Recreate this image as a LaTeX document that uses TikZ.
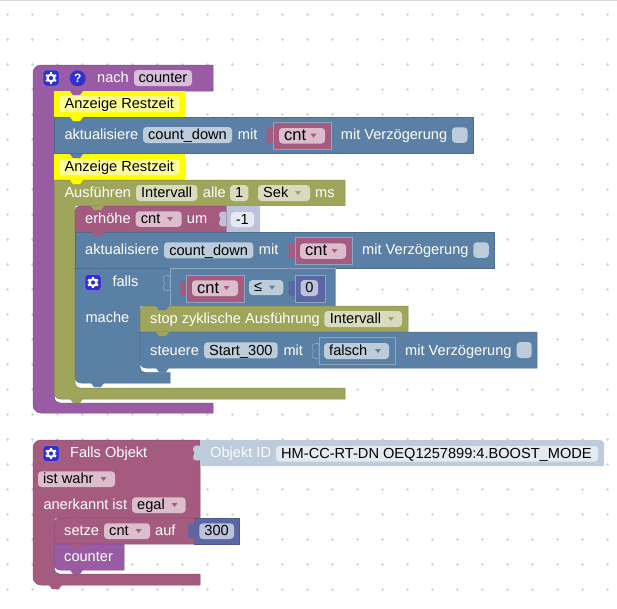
\documentclass[tikz,border=0pt]{standalone}
\usepackage{fontspec}
\setmainfont{Liberation Sans}
\definecolor{blockpurple}{HTML}{9A5BA5}
\definecolor{blockblue}{HTML}{5B80A5}
\definecolor{blockolive}{HTML}{9FA55B}
\definecolor{blockmaroon}{HTML}{A55B80}
\definecolor{blockindigo}{HTML}{5B67A5}
\definecolor{blockyellow}{HTML}{FFFF00}
\definecolor{iconblue}{HTML}{3030CC}
\definecolor{fieldpurple}{HTML}{D7BEDB}
\definecolor{fieldblue}{HTML}{BDCCDB}
\definecolor{fieldolive}{HTML}{D8DBBD}
\definecolor{fieldmaroon}{HTML}{DBBDCC}
\definecolor{fieldindigo}{HTML}{BDC2DB}
\definecolor{fieldyellow}{HTML}{FFFF99}
\definecolor{fieldpale}{HTML}{E4EAF1}
\definecolor{socketline}{HTML}{8FA6BF}
\tikzset{
    block/.style={fill=#1,draw=#1!85!black,line width=.5pt},
    socket/.style={fill=#1,draw=socketline,line width=.6pt},
    field/.style={fill=#1,rounded corners=3.5pt},
    lbl/.style={anchor=west,inner sep=0pt,text=white,font=\fontsize{14.6}{16}\selectfont,text height=12pt,text depth=2.6pt},
    val/.style={lbl,text=black},
    bigval/.style={val,font=\fontsize{16.5}{18}\selectfont},
    griddot/.style={draw=black!16,line width=.5pt},
    pics/tab/.style={code={\fill[#1] (0,0) -- (3,4) -- (10,4) -- (13,0) -- cycle;}},
    pics/puzzle/.style={code={\path[#1] (0,-7) .. controls (-2,-8) and (-7,-8) .. (-7,-4) -- (-5.5,0) -- (-7,4) .. controls (-7,8) and (-2,8) .. (0,7) -- cycle;}},
    pics/dropmark/.style={code={\fill[#1] (-3,-2) -- (3,-2) -- (0,2) -- cycle;}},
    pics/gearicon/.style={code={
        \fill[iconblue,draw=white!40!iconblue,line width=.5pt,rounded corners=3pt] (-8,-8) rectangle (8,8);
        \foreach \a in {0,60,...,300} {\draw[white,line width=2pt,rotate=\a] (0,0) -- (0,5.8);}
        \fill[white] (0,0) circle (4.6pt);
        \fill[iconblue] (0,0) circle (2.1pt);
    }},
}

\begin{document}
\begin{tikzpicture}[x=1pt,y=-1pt]
    \useasboundingbox (0,0) rectangle (617,608);
    \draw[black!15] (0,.5) -- (617,.5);
    \foreach \i in {0,...,24} {
        \foreach \j in {0,...,23} {
            \draw[griddot] (5.8+25*\i,14.3+25*\j) -- +(3,0);
            \draw[griddot] (7.3+25*\i,12.8+25*\j) -- +(0,3);
        }
    }

    % first script
    \draw[block=blockpurple] (33,100) [rounded corners=8pt] -- (33,65) -- (100,65) [sharp corners] -- (213,65) -- (213,91) -- (54.3,91) -- (54.3,300) [rounded corners=6pt] -- (54.3,403) -- (100,403) [sharp corners] -- (213,403) -- (213,413) -- (100,413) [rounded corners=8pt] -- (33,413) -- (33,300) [sharp corners] -- cycle;
    \pic at (51,78) {gearicon};
    \fill[iconblue] (77.7,78.3) circle (8pt);
    \node[lbl,anchor=center,font=\bfseries\fontsize{12}{13}\selectfont,text height=8.6pt,text depth=0pt] (help) at (77.7,78.3) {?};
    \node[lbl] (nach) at (97,78) {nach};
    \fill[field=fieldpurple] (134,70) rectangle +(58,16) node[midway,val,anchor=center] (counterA) {counter};

    \fill[blockyellow] (54.3,91) rectangle (185,117);
    \pic at (70,91) {tab=blockpurple};
    \fill[field=fieldyellow] (59.3,96) rectangle +(120,16) node[midway,val,anchor=center] (restA) {Anzeige Restzeit};

    \draw[block=blockblue] (54.3,117) rectangle (473,153.5);
    \pic at (70,117) {tab=blockyellow};
    \node[lbl] (aktA) at (64.3,135) {aktualisiere};
    \fill[field=fieldblue] (143,127) rectangle +(89,16) node[midway,val,anchor=center] (downA) {count\_down};
    \node[lbl] (mitA) at (237.7,135) {mit};
    \pic at (273,135.5) {puzzle={fill=blockmaroon}};
    \draw[socket=blockmaroon] (273,122.7) rectangle (331,149);
    \fill[field=fieldmaroon] (279,128) rectangle +(46,15.5);
    \node[bigval] (cntA) at (284,136) {cnt};
    \pic at (313.5,135.7) {dropmark=blockmaroon};
    \node[lbl] (delayA) at (340.7,135) {mit Verzögerung};
    \fill[field=fieldblue] (452,127.3) rectangle +(15.5,15.5);

    \fill[blockyellow] (54.3,154) rectangle (185,180);
    \pic at (70,154) {tab=blockblue};
    \fill[field=fieldyellow] (59.3,159) rectangle +(120,16) node[midway,val,anchor=center] (restB) {Anzeige Restzeit};

    \draw[block=blockolive] (54.3,180) -- (345,180) -- (345,205.7) -- (75,205.7) -- (75,300) [rounded corners=5pt] -- (75,388) -- (120,388) [sharp corners] -- (345,388) -- (345,399) -- (120,399) [rounded corners=6pt] -- (54.3,399) -- (54.3,300) [sharp corners] -- cycle;
    \pic at (70,180) {tab=blockyellow};
    \pic at (70,399) {tab=blockolive};
    \node[lbl] (run) at (64.3,193) {Ausführen};
    \fill[field=fieldolive] (136,185) rectangle +(61.3,16) node[midway,val,anchor=center] (intervalA) {Intervall};
    \node[lbl] (every) at (202.7,193) {alle};
    \fill[field=fieldolive] (230,185) rectangle +(18.3,16) node[midway,val,anchor=center] (one) {1};
    \fill[field=fieldolive] (258,185) rectangle +(52,16);
    \node[val] (sek) at (263,193) {Sek};
    \pic at (298,193) {dropmark=blockolive};
    \node[lbl] (ms) at (315,193) {ms};

    % counter step and second update
    \fill[fieldindigo] (226,206) rectangle (260,232);
    \draw[block=blockmaroon] (226,206) -- (226,232) -- (75,232) -- (75,220) [rounded corners=5pt] -- (75,206) -- (120,206) [sharp corners] -- cycle;
    \pic at (226,219) {puzzle={fill=fieldindigo}};
    \pic at (91,206) {tab=blockolive};
    \node[lbl] (inc) at (85,219) {erhöhe};
    \fill[field=fieldmaroon] (135.7,211.3) rectangle +(46,15.5);
    \node[val] (cntB) at (140.7,219) {cnt};
    \pic at (170,219) {dropmark=blockmaroon};
    \node[lbl] (by) at (186.7,219) {um};
    \fill[field=fieldpale] (230.7,212) rectangle +(23.3,15) node[midway,val,anchor=center] (minus) {-1};

    \draw[block=blockblue] (75,232) rectangle (494,268);
    \pic at (91,232) {tab=blockmaroon};
    \node[lbl] (aktB) at (85,250) {aktualisiere};
    \fill[field=fieldblue] (164,242.3) rectangle +(89.3,16) node[midway,val,anchor=center] (downB) {count\_down};
    \node[lbl] (mitB) at (258.7,250) {mit};
    \pic at (295,251) {puzzle={fill=blockmaroon}};
    \draw[socket=blockmaroon] (295,237.5) rectangle (352,264.3);
    \fill[field=fieldmaroon] (300,243.3) rectangle +(46,15.5);
    \node[bigval] (cntC) at (305,251) {cnt};
    \pic at (334.5,251) {dropmark=blockmaroon};
    \node[lbl] (delayB) at (362,250) {mit Verzögerung};
    \fill[field=fieldblue] (473.3,242.3) rectangle +(15.5,15.5);

    % if branch
    \draw[block=blockblue] (170,268.5) -- (170,306) -- (140,306) -- (140,340) [rounded corners=5pt] -- (140,372.5) -- (155,372.5) [sharp corners] -- (170,372.5) -- (170,383) -- (120,383) [rounded corners=6pt] -- (75,383) -- (75,330) [sharp corners] -- (75,268.5) -- cycle;
    \pic at (91,268.5) {tab=blockblue};
    \pic at (91,383) {tab=blockblue};
    \draw[socket=blockblue] (170,268.5) rectangle (335,306);
    \pic at (170,283) {puzzle={socket=blockblue}};
    \pic at (93,282.5) {gearicon};
    \node[lbl] (cond) at (112.3,282) {falls};
    \node[lbl] (then) at (85.3,318) {mache};
    \pic at (186.7,288.5) {puzzle={fill=blockmaroon}};
    \draw[socket=blockmaroon] (186.7,275) rectangle (244.3,302);
    \fill[field=fieldmaroon] (192,280.3) rectangle +(46,15.7);
    \node[bigval] (cntD) at (197,288.5) {cnt};
    \pic at (226.5,288) {dropmark=blockmaroon};
    \fill[field=fieldblue] (249,280) rectangle +(34.3,15);
    \node[val] (leq) at (254,287) {≤};
    \pic at (272,287.5) {dropmark=blockblue};
    \pic at (295,288.5) {puzzle={fill=blockindigo}};
    \draw[socket=blockindigo] (295,275) rectangle (325,302);
    \fill[field=fieldindigo] (300.7,280) rectangle +(17.3,16) node[midway,val,anchor=center] (zero) {0};

    \draw[block=blockolive] (408,306) -- (408,332) -- (140,332) -- (140,320) [rounded corners=5pt] -- (140,306) -- (200,306) [sharp corners] -- cycle;
    \pic at (156,306) {tab=blockblue};
    \node[lbl] (halt) at (150,319) {stop zyklische Ausführung};
    \fill[field=fieldolive] (324.3,311) rectangle +(77.7,16);
    \node[val] (intervalB) at (329.7,319) {Intervall};
    \pic at (391,319) {dropmark=blockolive};

    \draw[block=blockblue] (537,332) -- (537,368) -- (200,368) [rounded corners=6pt] -- (140,368) -- (140,350) [sharp corners] -- (140,332) -- cycle;
    \pic at (156,332) {tab=blockolive};
    \pic at (156,368) {tab=blockblue};
    \node[lbl] (ctrl) at (150,350.5) {steuere};
    \fill[field=fieldblue] (204,342.3) rectangle +(73.7,16) node[midway,val,anchor=center] (start) {Start\_300};
    \node[lbl] (mitC) at (283.3,350.5) {mit};
    \pic at (319,351) {puzzle={socket=blockblue}};
    \draw[socket=blockblue] (319,337) rectangle (395,364);
    \fill[field=fieldblue] (324,343) rectangle +(65,16);
    \node[val] (false) at (329,351) {falsch};
    \pic at (378,351) {dropmark=blockblue};
    \node[lbl] (delayC) at (405,350.5) {mit Verzögerung};
    \fill[field=fieldblue] (516.7,342) rectangle +(15,16);

    % second script
    \draw[block=blockmaroon] (33,480) [rounded corners=8pt] -- (33,440) -- (100,440) [sharp corners] -- (200,440) -- (200,518) -- (54.3,518) -- (54.3,540) [rounded corners=5pt] -- (54.3,574) -- (100,574) [sharp corners] -- (200,574) -- (200,585) -- (100,585) [rounded corners=8pt] -- (33,585) -- (33,540) [sharp corners] -- cycle;
    \pic at (49,585) {tab=blockmaroon};
    \pic at (51,453.5) {gearicon};
    \node[lbl] (trigger) at (70,453) {Falls Objekt};
    \fill[field=fieldmaroon] (38,471.3) rectangle +(77,15.7);
    \node[val] (istrue) at (43,479) {ist wahr};
    \pic at (103.5,479) {dropmark=blockmaroon};
    \node[lbl] (ack) at (43.3,505) {anerkannt ist};
    \fill[field=fieldmaroon] (132,497.3) rectangle +(53.7,15.7);
    \node[val] (any) at (137,505) {egal};
    \pic at (174.5,505) {dropmark=blockmaroon};

    \fill[fieldblue] (200,466) -- (200,440) -- (500,440) [rounded corners=4pt] -- (604,440) -- (604,460) [sharp corners] -- (604,466) -- cycle;
    \pic at (200,453) {puzzle={fill=fieldblue}};
    \node[lbl,text=white!90!fieldblue] (objid) at (210,453) {Objekt ID};
    \fill[field=fieldpale] (276,446) rectangle +(322,15.5);
    \node[val] (objname) at (281,453.5) {HM-CC-RT-DN OEQ1257899:4.BOOST\_MODE};

    \draw[block=blockindigo] (194,518) rectangle (239.5,544);
    \draw[block=blockmaroon] (194.5,518) -- (194.5,544) -- (54.3,544) -- (54.3,530) [rounded corners=5pt] -- (54.3,518) -- (120,518) [sharp corners] -- cycle;
    \pic at (194.5,531) {puzzle={fill=blockindigo}};
    \pic at (70,518) {tab=blockmaroon};
    \node[lbl] (set) at (64,531) {setze};
    \fill[field=fieldmaroon] (104,523.3) rectangle +(46,15.7);
    \node[val] (cntE) at (109,531) {cnt};
    \pic at (138.5,531) {dropmark=blockmaroon};
    \node[lbl] (to) at (155,531) {auf};
    \fill[field=fieldindigo] (199.3,523.3) rectangle +(34.7,15.7) node[midway,val,anchor=center] (startval) {300};

    \draw[block=blockpurple] (124,544) -- (124,570) -- (100,570) [rounded corners=6pt] -- (54.3,570) -- (54.3,555) [sharp corners] -- (54.3,544) -- cycle;
    \pic at (70,544) {tab=blockmaroon};
    \pic at (70,570) {tab=blockpurple};
    \node[lbl] (counterB) at (64,557) {counter};
\end{tikzpicture}
\end{document}
